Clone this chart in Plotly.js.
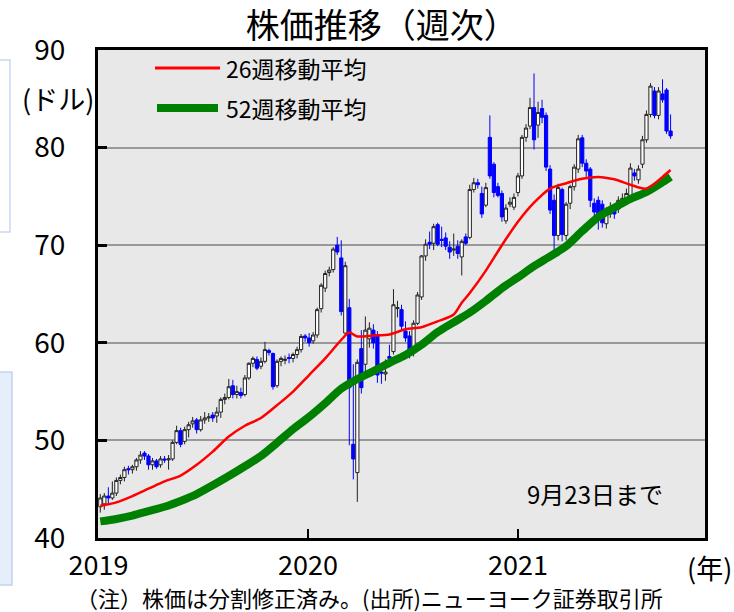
<!DOCTYPE html>
<html>
<head>
<meta charset="utf-8">
<script src="https://cdn.plot.ly/plotly-3.0.1.min.js"></script>
<style>
html,body{margin:0;padding:0;background:#fff;}
#chart{width:734px;height:612px;}
</style>
</head>
<body>
<div id="chart"></div>
<script>
// Weekly candles, first week ending 2019-01-04, last week ending 2021-09-24 (9月23日まで)
const firstWeek = [2019, 0, 4];

const openP = [
43.2,43.5,44.3,44.1,44.6,45.9,46.2,47.1,47.0,47.3,48.0,48.7,48.4,47.5,47.9,47.5,48.1,48.0,48.1,49.8,
51.0,49.9,51.1,51.7,52.1,51.1,52.1,52.3,52.6,52.5,52.9,54.2,54.4,55.6,54.7,54.9,54.7,56.4,57.9,58.3,
57.6,58.1,59.2,58.9,55.6,58.1,58.2,58.5,58.4,58.8,59.3,60.7,
60.5,60.2,60.8,63.5,65.6,67.2,67.5,70.0,68.7,61.0,63.6,49.6,46.7,59.4,57.8,60.4,61.3,60.8,
57.0,56.8,58.6,59.1,63.5,63.4,61.2,60.7,58.95,62.0,64.7,68.9,70.3,70.2,72.1,70.6,70.75,69.8,69.5,69.9,
68.8,70.85,70.8,75.7,76.4,75.3,74.1,81.05,78.3,76.0,75.3,72.5,74.2,73.9,
75.4,77.1,81.05,82.2,84.1,82.3,84.0,83.3,77.8,74.6,71.0,75.7,71.0,74.3,76.0,77.8,81.0,78.4,77.8,74.3,
74.6,74.2,72.2,73.2,73.7,73.7,74.6,74.6,74.9,77.4,76.7,78.3,80.8,83.4,85.8,83.3,85.5,85.9,81.7
];
const highP = [
44.5,44.6,45.2,45.8,46.2,46.5,47.3,47.4,47.5,48.2,48.9,48.9,48.6,48.2,48.1,48.4,48.4,48.5,50.0,51.5,
51.3,51.4,51.9,52.4,52.3,52.5,52.9,52.8,52.9,53.4,54.4,54.8,56.3,56.2,55.6,55.4,56.7,58.0,58.6,58.6,
58.5,60.1,59.4,59.0,58.3,58.6,58.7,58.9,59.0,59.6,60.9,60.9,
61.0,61.1,63.6,66.1,67.4,67.8,69.8,70.85,70.5,68.3,64.5,57.8,58.3,61.3,62.7,62.1,61.9,61.2,
57.8,58.3,59.8,65.5,64.3,63.9,62.2,61.2,62.3,65.2,69.0,70.6,71.4,72.2,72.3,71.9,71.3,70.4,71.2,70.5,
70.6,71.2,76.2,76.9,76.8,76.0,76.4,83.3,78.5,76.4,75.6,74.2,74.9,75.3,
77.4,81.3,82.4,85.1,87.6,84.7,84.9,83.6,78.2,75.2,76.3,75.9,74.4,76.2,78.3,81.3,81.3,78.8,78.0,74.8,
75.0,74.6,73.9,74.4,74.2,75.0,75.3,75.8,78.4,77.8,78.2,81.2,83.8,86.6,86.2,86.2,87.0,86.1,83.4
];
const lowP = [
42.6,42.9,43.5,43.9,44.3,45.5,45.8,46.5,46.6,46.9,47.6,48.0,47.0,47.0,47.1,47.2,47.7,47.0,47.9,49.6,
49.3,49.6,50.3,51.3,50.7,50.9,51.7,51.9,51.9,51.8,52.3,53.7,54.2,54.3,54.3,54.3,54.5,56.2,57.5,57.2,
57.3,57.9,58.7,55.2,55.4,57.6,57.8,57.9,58.0,58.4,59.0,60.1,
59.6,59.9,60.5,63.1,65.2,66.8,67.2,69.0,62.8,60.8,49.5,46.0,43.7,54.8,56.3,59.5,59.4,55.9,
55.8,56.1,57.7,58.8,62.6,61.2,60.1,58.4,58.6,61.8,64.4,68.4,69.6,69.5,69.9,69.8,69.5,68.6,68.9,68.6,
66.9,70.0,70.6,75.4,75.8,72.8,73.9,76.8,74.9,74.9,72.4,72.2,73.9,73.6,
75.0,76.8,80.6,81.9,79.8,81.0,82.5,77.6,73.2,68.7,70.5,70.4,70.5,73.7,75.6,77.4,78.0,77.0,73.9,72.6,
71.6,71.8,71.7,72.8,72.7,73.3,74.2,74.2,74.6,76.6,76.3,77.9,80.5,83.1,83.0,82.9,84.6,81.4,80.9
];
const closeP = [
44.1,44.3,44.1,44.6,45.9,46.2,47.0,47.0,47.3,48.0,48.5,48.4,47.5,47.9,47.3,48.1,48.0,48.1,49.8,51.0,
49.6,51.1,51.6,52.0,51.1,52.1,52.3,52.4,52.3,52.9,54.2,54.4,55.5,54.7,55.0,54.6,56.4,57.9,58.4,57.4,
58.1,59.3,59.0,55.5,58.1,58.4,58.3,58.4,58.8,59.3,60.65,60.5,
60.0,60.8,63.4,65.9,67.1,67.45,69.6,69.3,63.2,67.9,55.4,48.1,58.0,55.4,61.3,61.5,60.0,56.7,
56.9,57.0,58.4,63.9,63.6,61.7,60.5,59.0,62.0,64.9,68.9,70.1,70.1,71.9,70.1,70.5,69.9,69.3,69.6,69.15,
70.4,70.2,75.7,76.4,76.2,73.2,75.9,77.1,75.4,75.1,72.9,73.8,74.4,74.9,
77.1,81.05,82.0,84.1,80.8,83.6,83.1,78.0,73.6,71.0,75.9,71.1,74.2,76.0,78.0,80.9,78.4,77.6,74.6,73.4,
72.6,72.3,73.4,73.9,73.2,74.6,74.8,75.3,77.9,77.1,77.8,80.8,83.4,86.3,83.3,85.8,84.9,81.7,81.2
];

// Moving averages at these week positions
const ma26Weeks = [0,4,8,12,16,20,24,28,32,36,40,44,48,52,56,60,62,64,68,72,76,80,84,88,90,92,96,100,104,108,112,116,120,124,128,132,136,140,142];
const ma26Vals  = [43.3,43.65,44.3,45.05,45.8,46.4,47.5,48.85,50.4,51.5,52.3,53.6,55.0,56.7,58.4,60.3,61.05,60.65,60.75,60.85,61.38,61.6,62.2,62.9,64.1,65.1,67.4,70.0,72.4,74.35,75.8,76.35,76.8,77.0,76.75,76.2,75.8,77.0,77.7];
const ma52Weeks = [0,4,8,12,16,20,24,28,32,36,40,44,48,52,56,60,64,68,72,76,80,84,88,92,96,100,104,108,112,116,120,124,128,132,136,140,142];
const ma52Vals  = [41.7,41.95,42.3,42.75,43.2,43.8,44.5,45.4,46.35,47.35,48.4,49.75,51.15,52.4,53.8,55.3,56.3,57.1,57.95,58.75,59.8,61.1,62.1,63.1,64.3,65.6,66.7,67.85,68.85,69.9,71.45,72.9,73.85,74.75,75.45,76.45,77.0];

const legendNames = ['26週移動平均', '52週移動平均'];
const yTicks = [40, 50, 60, 70, 80, 90];

const dates = openP.map((_, i) =>
  new Date(Date.UTC(firstWeek[0], firstWeek[1], firstWeek[2] + 7 * i)).toISOString().slice(0, 10));

const FONT = 'Noto Sans CJK JP, Noto Sans, sans-serif';

const traces = [
  {
    type: 'candlestick', x: dates, open: openP, high: highP, low: lowP, close: closeP,
    increasing: {line: {color: '#222222', width: 1}, fillcolor: '#ffffff'},
    decreasing: {line: {color: '#0000ff', width: 1}, fillcolor: '#0000ff'},
    whiskerwidth: 0, showlegend: false, hoverinfo: 'skip'
  },
  {
    type: 'scatter', mode: 'lines', name: legendNames[1],
    x: ma52Weeks.map(i => dates[i]), y: ma52Vals,
    line: {color: '#008000', width: 8, shape: 'spline', smoothing: 0.8},
    showlegend: false, hoverinfo: 'skip'
  },
  {
    type: 'scatter', mode: 'lines', name: legendNames[0],
    x: ma26Weeks.map(i => dates[i]), y: ma26Vals,
    line: {color: '#ff0000', width: 2.5, shape: 'spline', smoothing: 0.8},
    showlegend: false, hoverinfo: 'skip'
  }
];

// pixel -> paper helpers for annotation placement
const PL = 98, PR = 705, PT = 50, PB = 538;
const px = v => (v - PL) / (PR - PL);
const py = v => (PB - v) / (PB - PT);

const layout = {
  width: 734, height: 612,
  margin: {l: PL, r: 734 - PR, t: PT, b: 612 - PB, pad: 0},
  paper_bgcolor: '#ffffff',
  plot_bgcolor: '#e8e8e8',
  font: {family: FONT, color: '#000000'},
  showlegend: false,
  boxgap: 0.2, boxgroupgap: 0,
  title: {
    text: '株価推移（週次）',
    font: {family: FONT, size: 34, color: '#000'},
    x: 0.52, xanchor: 'center', y: 1 - 26 / 612, yanchor: 'middle'
  },
  xaxis: {
    type: 'date',
    range: ['2018-12-31', '2021-11-23'],
    tick0: '2019-01-01', dtick: 'M12', tickformat: '%Y',
    ticks: 'inside', ticklen: 9, tickwidth: 2, tickcolor: '#000',
    showgrid: false, zeroline: false,
    showline: true, linecolor: '#000', linewidth: 3, mirror: true,
    tickfont: {family: FONT, size: 27, color: '#000'},
    ticklabelstandoff: 2,
    rangeslider: {visible: false},
    fixedrange: true
  },
  yaxis: {
    range: [40, 90],
    tickvals: yTicks,
    ticks: 'inside', ticklen: 9, tickwidth: 3, tickcolor: '#000',
    showgrid: true, gridcolor: '#999999', gridwidth: 2,
    zeroline: false,
    showline: true, linecolor: '#000', linewidth: 3, mirror: true,
    tickfont: {family: FONT, size: 28, color: '#000'},
    ticklabelstandoff: 24,
    fixedrange: true
  },
  shapes: [
    {type: 'line', xref: 'paper', yref: 'paper', x0: px(155), x1: px(220), y0: py(68), y1: py(68),
     line: {color: '#ff0000', width: 3}},
    {type: 'line', xref: 'paper', yref: 'paper', x0: px(157), x1: px(218), y0: py(108), y1: py(108),
     line: {color: '#008000', width: 8}},
    {type: 'rect', xref: 'paper', yref: 'paper', x0: px(-12), x1: px(10), y0: py(232), y1: py(60),
     line: {color: '#c9d8ef', width: 1.5}, fillcolor: 'rgba(0,0,0,0)'},
    {type: 'rect', xref: 'paper', yref: 'paper', x0: px(-12), x1: px(12), y0: py(585), y1: py(372),
     line: {color: '#c2d3ee', width: 1.5}, fillcolor: '#e6eefb'}
  ],
  annotations: [
    {xref: 'paper', yref: 'paper', x: px(224), y: py(68), xanchor: 'left', yanchor: 'middle',
     text: legendNames[0], showarrow: false, font: {family: FONT, size: 23, color: '#000'}},
    {xref: 'paper', yref: 'paper', x: px(224), y: py(108), xanchor: 'left', yanchor: 'middle',
     text: legendNames[1], showarrow: false, font: {family: FONT, size: 23, color: '#000'}},
    {xref: 'paper', yref: 'paper', x: px(595), y: py(493), xanchor: 'center', yanchor: 'middle',
     text: '9月23日まで', showarrow: false, font: {family: FONT, size: 24, color: '#000'}},
    {xref: 'paper', yref: 'paper', x: px(58), y: py(98), xanchor: 'center', yanchor: 'middle',
     text: '(ドル)', showarrow: false, font: {family: FONT, size: 27, color: '#000'}},
    {xref: 'paper', yref: 'paper', x: px(709), y: py(567), xanchor: 'center', yanchor: 'middle',
     text: '(年)', showarrow: false, font: {family: FONT, size: 27, color: '#000'}},
    {xref: 'paper', yref: 'paper', x: px(369), y: py(597), xanchor: 'center', yanchor: 'middle',
     text: '（注）株価は分割修正済み。(出所)ニューヨーク証券取引所', showarrow: false,
     font: {family: FONT, size: 22, color: '#000'}}
  ]
};

Plotly.newPlot('chart', traces, layout, {staticPlot: true, displayModeBar: false});
</script>
</body>
</html>
